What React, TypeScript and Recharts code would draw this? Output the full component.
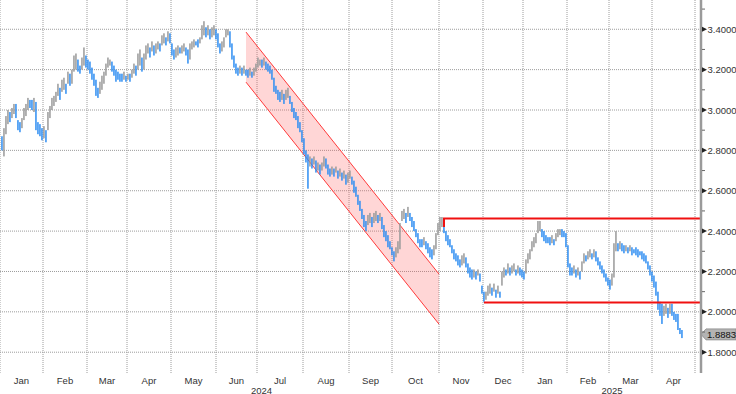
import React from 'react';
import { ComposedChart, Bar, Area, Line, XAxis, YAxis, CartesianGrid, ReferenceLine } from 'recharts';

const lows = [
  2.80, 2.77, 2.88, 2.93, 2.94, 2.96, 2.98, 2.96, 2.90, 2.89,
  2.91, 2.95, 2.97, 3.00, 3.01, 3.00, 2.99, 2.90, 2.88, 2.87,
  2.85, 2.86, 2.84, 2.90, 2.96, 3.00, 3.02, 3.04, 3.07, 3.05,
  3.09, 3.10, 3.08, 3.13, 3.12, 3.13, 3.19, 3.20, 3.19, 3.18,
  3.20, 3.22, 3.21, 3.20, 3.18, 3.15, 3.12, 3.07, 3.06, 3.08,
  3.10, 3.13, 3.17, 3.21, 3.22, 3.19, 3.17, 3.14, 3.15, 3.14,
  3.14, 3.15, 3.14, 3.15, 3.14, 3.16, 3.18, 3.17, 3.20, 3.22,
  3.19, 3.20, 3.25, 3.28, 3.26, 3.29, 3.27, 3.28, 3.30, 3.29,
  3.32, 3.33, 3.32, 3.34, 3.33, 3.27, 3.25, 3.26, 3.27, 3.28,
  3.28, 3.29, 3.27, 3.23, 3.25, 3.30, 3.31, 3.32, 3.31, 3.33,
  3.35, 3.37, 3.36, 3.37, 3.35, 3.36, 3.37, 3.35, 3.31, 3.28,
  3.29, 3.31, 3.36, 3.37, 3.31, 3.25, 3.21, 3.18, 3.17, 3.18,
  3.17, 3.18, 3.17, 3.16, 3.17, 3.16, 3.17, 3.19, 3.21, 3.22,
  3.21, 3.22, 3.20, 3.19, 3.18, 3.15, 3.09, 3.08, 3.05, 3.04,
  3.05, 3.03, 3.05, 3.06, 3.03, 2.99, 2.96, 2.95, 2.91, 2.89,
  2.84, 2.78, 2.74, 2.61, 2.72, 2.71, 2.73, 2.69, 2.70, 2.68,
  2.70, 2.72, 2.71, 2.68, 2.67, 2.68, 2.67, 2.69, 2.66, 2.67,
  2.65, 2.66, 2.63, 2.64, 2.66, 2.63, 2.59, 2.57, 2.53, 2.50,
  2.46, 2.42, 2.40, 2.43, 2.44, 2.42, 2.44, 2.45, 2.44, 2.45,
  2.41, 2.37, 2.35, 2.32, 2.31, 2.28, 2.25, 2.27, 2.29, 2.31,
  2.45, 2.46, 2.44, 2.47, 2.45, 2.42, 2.40, 2.37, 2.34, 2.32,
  2.32, 2.33, 2.31, 2.29, 2.27, 2.26, 2.28, 2.31, 2.38, 2.40,
  2.42, 2.39, 2.35, 2.33, 2.32, 2.29, 2.26, 2.25, 2.23, 2.22,
  2.23, 2.24, 2.22, 2.19, 2.17, 2.16, 2.17, 2.16, 2.18, 2.15,
  2.09, 2.05, 2.06, 2.08, 2.09, 2.08, 2.10, 2.07, 2.09, 2.07,
  2.13, 2.17, 2.18, 2.19, 2.18, 2.19, 2.20, 2.18, 2.19, 2.18,
  2.17, 2.16, 2.19, 2.24, 2.26, 2.30, 2.32, 2.34, 2.39, 2.40,
  2.37, 2.35, 2.34, 2.34, 2.33, 2.34, 2.33, 2.35, 2.37, 2.38,
  2.37, 2.37, 2.32, 2.22, 2.18, 2.18, 2.19, 2.17, 2.18, 2.16,
  2.20, 2.24, 2.25, 2.26, 2.27, 2.26, 2.27, 2.25, 2.23, 2.21,
  2.19, 2.17, 2.15, 2.13, 2.11, 2.13, 2.17, 2.30, 2.30, 2.31,
  2.30, 2.29, 2.30, 2.29, 2.30, 2.28, 2.29, 2.28, 2.27, 2.28,
  2.26, 2.25, 2.24, 2.21, 2.18, 2.15, 2.12, 2.08, 2.01, 1.98,
  1.94, 1.98, 1.99, 1.97, 1.99, 1.98, 1.96, 1.95, 1.91, 1.89,
  1.87,
];

const highs = [
  2.87, 2.91, 2.97, 3.00, 2.99, 3.01, 3.03, 3.03, 2.95, 2.94,
  2.96, 3.01, 3.03, 3.06, 3.05, 3.05, 3.06, 3.04, 2.94, 2.93,
  2.91, 2.92, 2.90, 2.99, 3.02, 3.06, 3.07, 3.09, 3.13, 3.11,
  3.15, 3.16, 3.13, 3.19, 3.18, 3.20, 3.27, 3.28, 3.25, 3.22,
  3.26, 3.31, 3.27, 3.25, 3.24, 3.21, 3.18, 3.15, 3.11, 3.14,
  3.17, 3.19, 3.23, 3.26, 3.25, 3.24, 3.22, 3.20, 3.19, 3.18,
  3.18, 3.19, 3.17, 3.18, 3.18, 3.20, 3.23, 3.22, 3.28, 3.30,
  3.26, 3.28, 3.32, 3.33, 3.31, 3.34, 3.32, 3.33, 3.34, 3.33,
  3.37, 3.38, 3.36, 3.39, 3.38, 3.33, 3.30, 3.31, 3.32, 3.31,
  3.32, 3.33, 3.31, 3.30, 3.33, 3.34, 3.35, 3.34, 3.35, 3.36,
  3.42, 3.44, 3.41, 3.42, 3.40, 3.41, 3.42, 3.40, 3.38, 3.33,
  3.34, 3.36, 3.40, 3.40, 3.39, 3.33, 3.27, 3.23, 3.21, 3.22,
  3.21, 3.22, 3.20, 3.20, 3.21, 3.19, 3.21, 3.23, 3.26, 3.25,
  3.25, 3.26, 3.24, 3.23, 3.22, 3.20, 3.16, 3.12, 3.10, 3.09,
  3.10, 3.08, 3.10, 3.11, 3.07, 3.04, 3.01, 2.99, 2.97, 2.94,
  2.90, 2.86, 2.80, 2.78, 2.77, 2.76, 2.77, 2.75, 2.74, 2.73,
  2.74, 2.77, 2.76, 2.73, 2.71, 2.72, 2.71, 2.72, 2.70, 2.71,
  2.69, 2.70, 2.68, 2.69, 2.70, 2.67, 2.65, 2.62, 2.58, 2.55,
  2.51, 2.48, 2.45, 2.48, 2.49, 2.47, 2.49, 2.50, 2.48, 2.49,
  2.47, 2.43, 2.40, 2.38, 2.35, 2.32, 2.30, 2.32, 2.35, 2.44,
  2.50, 2.51, 2.49, 2.52, 2.49, 2.47, 2.45, 2.41, 2.39, 2.36,
  2.36, 2.37, 2.35, 2.34, 2.32, 2.31, 2.33, 2.39, 2.44, 2.47,
  2.47, 2.44, 2.40, 2.38, 2.36, 2.33, 2.31, 2.29, 2.28, 2.26,
  2.28, 2.29, 2.27, 2.24, 2.22, 2.21, 2.21, 2.20, 2.21, 2.19,
  2.13, 2.10, 2.10, 2.13, 2.14, 2.12, 2.14, 2.11, 2.13, 2.10,
  2.20, 2.22, 2.21, 2.24, 2.22, 2.23, 2.24, 2.21, 2.23, 2.22,
  2.21, 2.20, 2.26, 2.29, 2.31, 2.35, 2.37, 2.39, 2.45, 2.45,
  2.41, 2.40, 2.38, 2.37, 2.37, 2.38, 2.36, 2.39, 2.41, 2.41,
  2.41, 2.40, 2.39, 2.33, 2.24, 2.22, 2.23, 2.21, 2.22, 2.20,
  2.25, 2.29, 2.28, 2.30, 2.31, 2.29, 2.31, 2.30, 2.27, 2.25,
  2.23, 2.21, 2.19, 2.17, 2.16, 2.19, 2.34, 2.40, 2.34, 2.35,
  2.34, 2.33, 2.33, 2.32, 2.33, 2.32, 2.31, 2.32, 2.31, 2.30,
  2.30, 2.29, 2.28, 2.25, 2.23, 2.20, 2.18, 2.15, 2.10, 2.05,
  2.04, 2.03, 2.04, 2.02, 2.04, 2.04, 2.00, 1.99, 1.99, 1.92,
  1.91,
];

const lastPrice = 1.8883;

// month starts, in trading-day index units
const monthStarts = [-1, 20.5, 42.5, 62.5, 84.5, 107, 127.5, 150.5, 173.5, 195, 218.5, 240.5, 260.5, 282.5, 303.5, 325, 346.5];
const monthNames = ['Jan', 'Feb', 'Mar', 'Apr', 'May', 'Jun', 'Jul', 'Aug', 'Sep', 'Oct', 'Nov', 'Dec', 'Jan', 'Feb', 'Mar', 'Apr'];
const yearNames = ['2024', '2025'];
const yearStarts = [-1, 260.5];
const xEnd = 349.5;

const yMajor = [1.8, 2.0, 2.2, 2.4, 2.6, 2.8, 3.0, 3.2, 3.4];
const yAll = [1.8, 1.9, 2.0, 2.1, 2.2, 2.3, 2.4, 2.5, 2.6, 2.7, 2.8, 2.9, 3.0, 3.1, 3.2, 3.3, 3.4, 3.5];
const yDomain = [1.697, 3.545];

// channel (start/end index, lower/upper values)
const channel = [
  { i: 122, ch: [3.138, 3.386] },
  { i: 218.5, ch: [1.939, 2.187] },
];
const resistance = [
  { i: 221, v: 2.42 },
  { i: 221, v: 2.463 },
  { i: 349.5, v: 2.463 },
];
const support = [
  { i: 241, v: 2.046 },
  { i: 349.5, v: 2.046 },
];

const BLUE = '#2f8ef2';
const GRAY = '#9a9a9a';

const data = lows.map((lo, i) => {
  const m = (lo + highs[i]) / 2;
  const pm = i === 0 ? m + 1 : (lows[i - 1] + highs[i - 1]) / 2;
  return { i, range: [lo, highs[i]], up: m > pm };
});

const boundaryTicks = monthStarts.slice(1);
const labelTicks: { v: number; text: string; row: number }[] = [];
monthNames.forEach((n, k) => {
  const end = k + 1 < monthStarts.length ? monthStarts[k + 1] : xEnd;
  labelTicks.push({ v: (monthStarts[k] + end) / 2, text: n, row: 0 });
});
yearNames.forEach((n, k) => {
  const end = k + 1 < yearStarts.length ? yearStarts[k + 1] : xEnd;
  labelTicks.push({ v: (yearStarts[k] + end) / 2, text: n, row: 1 });
});

const PriceBar = (props: any) => {
  const { x, y, width, height, payload } = props;
  if (x == null || y == null) return null;
  const cx = x + width / 2;
  const color = payload && payload.up ? GRAY : BLUE;
  return <rect x={cx - 0.75} y={y} width={1.5} height={Math.max(height, 1)} fill={color} />;
};

const BoundaryTick = (props: any) => {
  const { x, y, payload } = props;
  const isYear = yearStarts.indexOf(payload.value) > 0;
  return (
    <g>
      <line x1={x} y1={y} x2={x} y2={isYear ? y + 21 : y + 4} stroke={isYear ? '#c0c0c0' : '#888'} strokeWidth={1} />
    </g>
  );
};

const LabelTick = (props: any) => {
  const { x, y, payload } = props;
  const l = labelTicks.find((t) => Math.abs(t.v - payload.value) < 1e-6);
  if (!l) return null;
  return (
    <text x={x} y={l.row === 0 ? y + 10.5 : y + 20.5} textAnchor="middle" fontSize={9.5} fill="#333">
      {l.text}
    </text>
  );
};

const YTick = (props: any) => {
  const { x, y, payload } = props;
  const v = payload.value;
  const major = Math.round(v * 10) % 2 === 0;
  if (!major) {
    return <line x1={x + 1} y1={y} x2={x + 4} y2={y} stroke="#666" strokeWidth={1} />;
  }
  return (
    <g>
      <polygon points={`${x + 1},${y - 2.5} ${x + 6},${y} ${x + 1},${y + 2.5}`} fill="#222" />
      <text x={x + 6.5} y={y + 3.5} fontSize={9.5} fill="#333" textAnchor="start">
        {v.toFixed(4)}
      </text>
    </g>
  );
};

const LastLabel = (props: any) => {
  const { viewBox } = props;
  const x0 = viewBox.x + viewBox.width;
  const y = viewBox.y;
  return (
    <g>
      <polygon
        points={`${x0},${y} ${x0 + 5},${y - 5.5} ${x0 + 35},${y - 5.5} ${x0 + 35},${y + 5.5} ${x0 + 5},${y + 5.5}`}
        fill="#b3b3b3"
        stroke="#8a8a8a"
        strokeWidth={0.8}
      />
      <text x={x0 + 6} y={y + 3.5} fontSize={9.5} fill="#111">
        {lastPrice.toFixed(4)}
      </text>
    </g>
  );
};

export default function App() {
  return (
    <div style={{ position: 'absolute', left: 0, top: 0, width: 736, height: 394, background: '#fff', fontFamily: '"Liberation Sans", Arial, sans-serif' }}>
      <ComposedChart width={736} height={394} data={data} margin={{ top: 0, right: 0, left: 0, bottom: 0 }}>
        <CartesianGrid stroke="#9c9c9c" strokeDasharray="1 1" horizontalValues={yMajor} />
        <XAxis
          dataKey="i"
          type="number"
          domain={[-1, xEnd]}
          allowDataOverflow
          ticks={boundaryTicks}
          interval={0}
          height={0}
          tickSize={0}
          tickMargin={0}
          tickLine={false}
          tick={<BoundaryTick />}
          axisLine={{ stroke: '#9a9a9a', strokeWidth: 2 }}
        />
        <XAxis
          xAxisId="lbl"
          dataKey="i"
          type="number"
          domain={[-1, xEnd]}
          allowDataOverflow
          ticks={labelTicks.map((t) => t.v)}
          interval={0}
          height={21}
          tickSize={0}
          tickMargin={0}
          tickLine={false}
          axisLine={false}
          tick={<LabelTick />}
        />
        <YAxis
          orientation="right"
          type="number"
          domain={yDomain}
          allowDataOverflow
          ticks={yAll}
          interval={0}
          width={35}
          tickSize={0}
          tickMargin={0}
          tickLine={false}
          tick={<YTick />}
          axisLine={{ stroke: '#9a9a9a', strokeWidth: 2.5 }}
        />
        <Bar dataKey="range" barSize={2} shape={<PriceBar />} isAnimationActive={false} />
        <Area
          data={channel}
          dataKey="ch"
          type="linear"
          stroke="#ff3a3a"
          strokeWidth={1}
          fill="#ff5a5a"
          fillOpacity={0.25}
          isAnimationActive={false}
          dot={false}
          activeDot={false}
        />
        <Line data={resistance} dataKey="v" type="linear" stroke="#f01010" strokeWidth={2} dot={false} activeDot={false} isAnimationActive={false} />
        <Line data={support} dataKey="v" type="linear" stroke="#f01010" strokeWidth={2} dot={false} activeDot={false} isAnimationActive={false} />
        <ReferenceLine y={lastPrice} stroke="none" ifOverflow="visible" label={<LastLabel />} />
      </ComposedChart>
    </div>
  );
}
